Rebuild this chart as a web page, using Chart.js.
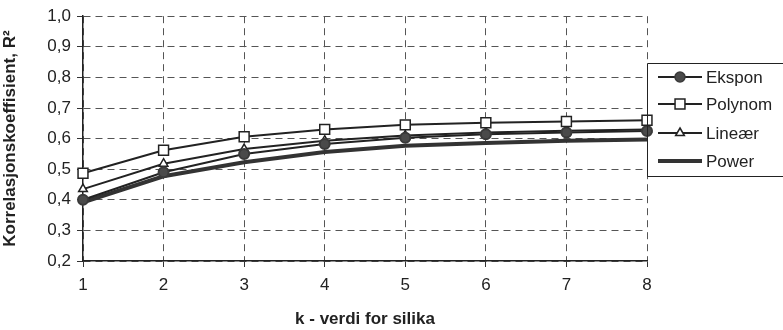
<!DOCTYPE html>
<html>
<head>
<meta charset="utf-8">
<script src="https://cdn.jsdelivr.net/npm/chart.js@4"></script>
<style>
  html, body { margin: 0; padding: 0; background: #fff; }
  #wrap { width: 783px; height: 330px; }
</style>
</head>
<body>
<div id="wrap"><canvas id="myChart" width="783" height="330"></canvas></div>
<script>
var xValues = [1, 2, 3, 4, 5, 6, 7, 8];
var ekspon  = [0.400, 0.490, 0.550, 0.582, 0.603, 0.614, 0.620, 0.625];
var polynom = [0.487, 0.562, 0.606, 0.630, 0.645, 0.652, 0.656, 0.660];
var linear  = [0.435, 0.518, 0.566, 0.593, 0.610, 0.620, 0.626, 0.630];
var power   = [0.392, 0.477, 0.523, 0.556, 0.577, 0.586, 0.593, 0.597];
var seriesNames = ['Ekspon', 'Polynom', 'Lineær', 'Power'];

var FONT = '"Liberation Sans", Arial, sans-serif';

// legend box drawn at the right, like the original
var boxLegend = {
	id : 'boxLegend',
	afterDraw : function(chart) {
		var ctx = chart.ctx;
		var left = 647, top = 63, bottom = 176, right = 790;
		ctx.save();
		ctx.strokeStyle = '#222';
		ctx.lineWidth = 1;
		ctx.beginPath();
		ctx.moveTo(right, top + 0.5);
		ctx.lineTo(left + 0.5, top + 0.5);
		ctx.lineTo(left + 0.5, bottom + 0.5);
		ctx.lineTo(right, bottom + 0.5);
		ctx.stroke();
		var rows = [77, 104, 133, 161];
		chart.data.datasets.forEach(function(ds, i) {
			var y = rows[i], cx = 680;
			ctx.strokeStyle = ds.borderColor;
			ctx.lineWidth = ds.borderWidth;
			ctx.beginPath();
			ctx.moveTo(658, y);
			ctx.lineTo(702, y);
			ctx.stroke();
			if (ds.pointStyle) {
				ctx.fillStyle = ds.pointBackgroundColor;
				ctx.strokeStyle = ds.pointBorderColor;
				ctx.lineWidth = 1.5;
				ctx.beginPath();
				if (ds.pointStyle === 'circle') {
					ctx.arc(cx, y, ds.pointRadius, 0, Math.PI * 2);
				} else if (ds.pointStyle === 'rect') {
					var s = ds.pointRadius * Math.SQRT1_2;
					ctx.rect(cx - s, y - s, 2 * s, 2 * s);
				} else {
					var r = ds.pointRadius;
					ctx.moveTo(cx, y - r);
					ctx.lineTo(cx + r * 0.87, y + r * 0.5);
					ctx.lineTo(cx - r * 0.87, y + r * 0.5);
					ctx.closePath();
				}
				ctx.fill();
				ctx.stroke();
			}
			ctx.fillStyle = '#222';
			ctx.font = '17px ' + FONT;
			ctx.textBaseline = 'middle';
			ctx.fillText(ds.label, 706, y + 1);
		});
		ctx.restore();
	}
};

var mixedChart = new Chart("myChart", {
	type : 'line',
	data : {
		labels : xValues,
		datasets : [ {
			label : seriesNames[0],
			data : ekspon,
			borderColor : '#222',
			borderWidth : 2,
			pointStyle : 'circle',
			pointRadius : 5,
			pointBackgroundColor : '#4a4a4a',
			pointBorderColor : '#3a3a3a',
			order : 2
		}, {
			label : seriesNames[1],
			data : polynom,
			borderColor : '#222',
			borderWidth : 2,
			pointStyle : 'rect',
			pointRadius : 7,
			pointBackgroundColor : '#fff',
			pointBorderColor : '#222',
			pointBorderWidth : 1.5,
			order : 1
		}, {
			label : seriesNames[2],
			data : linear,
			borderColor : '#222',
			borderWidth : 2,
			pointStyle : 'triangle',
			pointRadius : 5,
			pointBackgroundColor : '#fff',
			pointBorderColor : '#222',
			pointBorderWidth : 1.5,
			order : 3
		}, {
			label : seriesNames[3],
			data : power,
			borderColor : '#333',
			borderWidth : 4,
			pointStyle : false,
			pointRadius : 0,
			order : 4
		} ]
	},
	plugins : [ boxLegend ],
	options : {
		responsive : false,
		animation : false,
		layout : {
			padding : { left : 0, right : 136, top : 16, bottom : 0 }
		},
		elements : { line : { tension : 0 } },
		plugins : {
			legend : { display : false },
			tooltip : { enabled : false }
		},
		scales : {
			x : {
				type : 'category',
				offset : false,
				afterFit : function(scale) { scale.height = 69; },
				grid : {
					color : '#555',
					lineWidth : 1,
					tickLength : 6,
					tickColor : '#333',
					tickBorderDash : []
				},
				border : { display : true, color : '#222', width : 1.5, dash : [7, 5] },
				ticks : {
					color : '#222',
					font : { family : FONT, size : 17 },
					padding : 8,
					maxRotation : 0
				},
				title : {
					display : true,
					text : 'k - verdi for silika',
					color : '#222',
					font : { family : FONT, size : 17, weight : 'bold' },
					padding : { top : 4, bottom : 0 }
				}
			},
			y : {
				min : 0.2,
				max : 1.0,
				afterFit : function(scale) { scale.width = 83; },
				grid : {
					color : '#555',
					lineWidth : 1,
					tickLength : 6,
					tickColor : '#333',
					tickBorderDash : []
				},
				border : { display : true, color : '#222', width : 1.5, dash : [7, 5] },
				ticks : {
					stepSize : 0.1,
					color : '#222',
					font : { family : FONT, size : 17 },
					padding : 6,
					callback : function(v) { return v.toFixed(1).replace('.', ','); }
				},
				title : {
					display : true,
					text : 'Korrelasjonskoeffisient, R²',
					color : '#222',
					font : { family : FONT, size : 17, weight : 'bold' },
					padding : { top : 0, bottom : 4 }
				}
			}
		}
	}
});
</script>
</body>
</html>
